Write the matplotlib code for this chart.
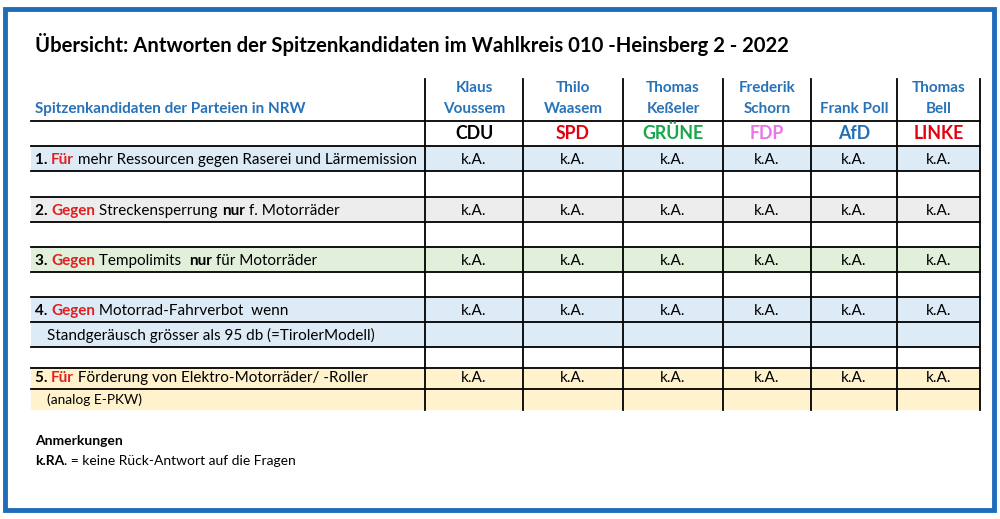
import matplotlib.pyplot as plt
from matplotlib.patches import Rectangle

# Data
title = "Übersicht: Antworten der Spitzenkandidaten im Wahlkreis 010 -Heinsberg 2 - 2022"
header_left = "Spitzenkandidaten der Parteien in NRW"
candidates = ["Klaus\nVoussem", "Thilo\nWaasem", "Thomas\nKeßeler", "Frederik\nSchorn", "Frank Poll", "Thomas\nBell"]
parties = ["CDU", "SPD", "GRÜNE", "FDP", "AfD", "LINKE"]
party_colors = ["#000000", "#E3000F", "#18A64A", "#EE72E8", "#2470B5", "#E3000F"]

# question text as (text, style) segments; style: b = bold black, r = bold red, n = normal
questions = [
    [("1. ", "b"), ("Für", "r"), (" mehr Ressourcen gegen Raserei und Lärmemission", "n")],
    [("2. ", "b"), ("Gegen", "r"), (" Streckensperrung ", "n"), ("nur", "b"), (" f. Motorräder", "n")],
    [("3. ", "b"), ("Gegen", "r"), (" Tempolimits  ", "n"), ("nur", "b"), (" für Motorräder", "n")],
    [("4. ", "b"), ("Gegen", "r"), (" Motorrad-Fahrverbot  wenn", "n")],
    [("5. ", "b"), ("Für", "r"), (" Förderung von Elektro-Motorräder/ -Roller", "n")],
]
subtexts = [None, None, None, "Standgeräusch grösser als 95 db (=TirolerModell)", "(analog E-PKW)"]
answers = [
    ["k.A.", "k.A.", "k.A.", "k.A.", "k.A.", "k.A."],
    ["k.A.", "k.A.", "k.A.", "k.A.", "k.A.", "k.A."],
    ["k.A.", "k.A.", "k.A.", "k.A.", "k.A.", "k.A."],
    ["k.A.", "k.A.", "k.A.", "k.A.", "k.A.", "k.A."],
    ["k.A.", "k.A.", "k.A.", "k.A.", "k.A.", "k.A."],
]
row_fills = ["#DDEBF7", "#EDEDED", "#E2EFDA", "#DDEBF7", "#FFF2CC"]
note_title = "Anmerkungen"
note_key = "k.RA"
note_text = ". = keine Rück-Antwort auf die Fragen"

FONT = "Lato"
BLUE = "#2872B8"
RED = "#E02020"

# Layout (pixel units, y from top)
col_x = [425, 523, 623, 723, 811, 897, 980]
left_x = 31
q_rows = [(146, 171), (197, 222), (247, 272), (297, 322), (368, 389)]
sub_rows = [None, None, None, (322, 347), (389, 410)]
hlines = [121, 146, 171, 197, 222, 247, 272, 297, 322, 347, 368, 389]

fig = plt.figure(figsize=(10, 5.19), dpi=100)
ax = fig.add_axes([0, 0, 1, 1])
ax.set_xlim(0, 1000)
ax.set_ylim(519, 0)
ax.axis("off")
renderer = fig.canvas.get_renderer()


def text_width(s, **kw):
    # measure with padding chars so that leading/trailing blanks count
    a = ax.text(0, 0, "x" + s + "x", fontfamily=FONT, **kw)
    b = ax.text(0, 0, "xx", fontfamily=FONT, **kw)
    w = a.get_window_extent(renderer).width - b.get_window_extent(renderer).width
    a.remove()
    b.remove()
    return w


def rich_line(x, y, segs, size):
    for s, st in segs:
        kw = dict(fontsize=size, fontweight="bold" if st in "br" else "normal",
                  color=RED if st == "r" else "black")
        ax.text(x, y, s, fontfamily=FONT, va="baseline", ha="left", **kw)
        x += text_width(s, **kw)


# outer frame
ax.add_patch(Rectangle((5, 9), 989, 501, fill=False, edgecolor="#1F6DBA", lw=3.5))

ax.text(35, 52, title, fontfamily=FONT, fontsize=14.6, fontweight="bold", va="baseline")

# row fills
for (t, b), sub, fc in zip(q_rows, sub_rows, row_fills):
    bottom = sub[1] if sub else b
    ax.add_patch(Rectangle((left_x, t), col_x[-1] - left_x, bottom - t, facecolor=fc, edgecolor="none"))

# grid lines
for y in hlines:
    ax.plot([left_x, col_x[-1]], [y, y], color="black", lw=1.3)
for x in col_x:
    ax.plot([x, x], [79, 410], color="black", lw=1.3)

# header
ax.text(35, 113, header_left, fontfamily=FONT, fontsize=11, fontweight="bold", color=BLUE, va="baseline")
for i, name in enumerate(candidates):
    cx = (col_x[i] + col_x[i + 1]) / 2
    lines = name.split("\n")
    if len(lines) == 1:
        lines = ["", lines[0]]
    ax.text(cx, 92, lines[0], fontfamily=FONT, fontsize=11, fontweight="bold", color=BLUE,
            ha="center", va="baseline")
    ax.text(cx, 113, lines[1], fontfamily=FONT, fontsize=11, fontweight="bold", color=BLUE,
            ha="center", va="baseline")
    ax.text(cx, 139, parties[i], fontfamily=FONT, fontsize=12.8, fontweight="bold",
            color=party_colors[i], ha="center", va="baseline")

# questions
for q, sub, (t, b), srow, ans in zip(questions, subtexts, q_rows, sub_rows, answers):
    base = b - 7
    rich_line(35, base, q, 11)
    for i, a in enumerate(ans):
        cx = (col_x[i] + col_x[i + 1]) / 2
        ax.text(cx, base, a, fontfamily=FONT, fontsize=11, ha="center", va="baseline")
    if sub:
        size = 11 if srow[1] - srow[0] > 22 else 9.9
        ax.text(47, srow[1] - 7 + (0 if size > 10 else 1), sub, fontfamily=FONT, fontsize=size,
                va="baseline")

# notes
ax.text(35, 445, note_title, fontfamily=FONT, fontsize=10, fontweight="bold", va="baseline")
rich_line(35, 465, [(note_key, "b"), (note_text, "n")], 10)

fig.savefig("out.png", dpi=100)
